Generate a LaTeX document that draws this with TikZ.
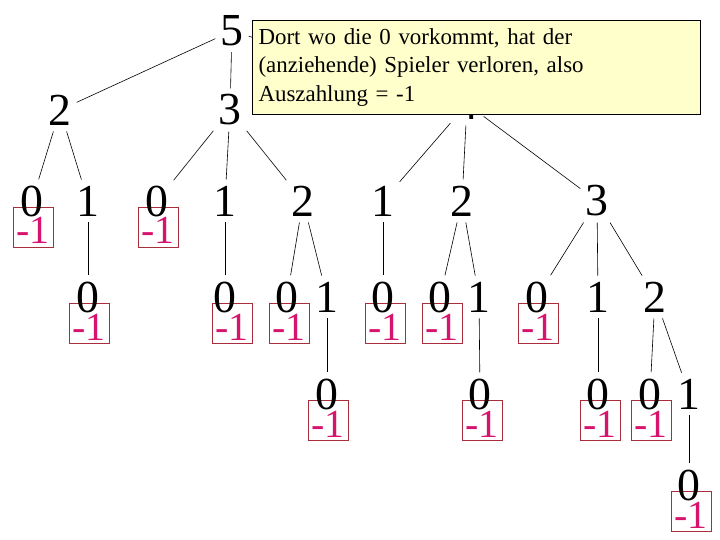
\documentclass[tikz,border=0pt]{standalone}
\usepackage{fontspec}
\setmainfont{Liberation Serif}
\usepackage{xcolor}
\usepackage{tikz}
\usetikzlibrary{positioning}
\definecolor{payline}{RGB}{170,45,60}
\definecolor{paytext}{RGB}{214,20,110}
\definecolor{notefill}{RGB}{255,255,204}
\tikzstyle{num} = [rectangle, inner xsep=5bp, inner ysep=6bp, font=\fontsize{46}{46}\selectfont]
\tikzstyle{payoff} = [rectangle, draw=payline, text=paytext, line width=0.8bp, minimum width=40bp, inner sep=3bp, text height=34bp, text depth=0pt, font=\fontsize{40}{40}\selectfont]
\tikzstyle{note} = [rectangle, draw=black, fill=notefill, line width=1bp, anchor=north west, minimum height=94bp, text width=436bp, inner xsep=6bp, align=left, font=\fontsize{23}{28.3}\selectfont]
\tikzstyle{branch} = [line width=0.6bp]
\begin{document}
\begin{tikzpicture}[x=1bp, y=-1bp]
\useasboundingbox (0,0) rectangle (720,540);

% Auszahlungen
\node (a0p) [payoff] at (33,227) {-1};
\node (b0p) [payoff] at (158,227) {-1};
\node (a10p) [payoff] at (89,323) {-1};
\node (b10p) [payoff] at (232,323) {-1};
\node (b20p) [payoff] at (289,323) {-1};
\node (c10p) [payoff] at (385,323) {-1};
\node (c20p) [payoff] at (442,323) {-1};
\node (c30p) [payoff] at (538,323) {-1};
\node (b210p) [payoff] at (328,420) {-1};
\node (c210p) [payoff] at (482,420) {-1};
\node (c310p) [payoff] at (600,420) {-1};
\node (c320p) [payoff] at (651,420) {-1};
\node (c3210p) [payoff] at (691,511) {-1};

% Ebene 0 und 1
\node (r) [num] at (232,31) {5};
\node (a) [num] at (60,110) {2};
\node (b) [num] at (230,110) {3};
\node (c) [num] at (467,104) {4};

% Ebene 2
\node (a0) [num] at (32,201) {0};
\node (a1) [num] at (88,201) {1};
\node (b0) [num] at (157,201) {0};
\node (b1) [num] at (225,201) {1};
\node (b2) [num] at (303,201) {2};
\node (c1) [num] at (383,201) {1};
\node (c2) [num] at (462,201) {2};
\node (c3) [num] at (597,201) {3};

% Ebene 3
\node (a10) [num] at (88,297) {0};
\node (b10) [num] at (225,297) {0};
\node (b20) [num] at (287,297) {0};
\node (b21) [num] at (327,297) {1};
\node (c10) [num] at (383,297) {0};
\node (c20) [num] at (440,297) {0};
\node (c21) [num] at (479,297) {1};
\node (c30) [num] at (537,297) {0};
\node (c31) [num] at (598,297) {1};
\node (c32) [num] at (655,297) {2};

% Ebene 4 und 5
\node (b210) [num] at (327,394) {0};
\node (c210) [num] at (480,394) {0};
\node (c310) [num] at (598,394) {0};
\node (c320) [num] at (650,394) {0};
\node (c321) [num] at (689,394) {1};
\node (c3210) [num] at (689,485) {0};

% Kanten
\draw [branch] (r) -- (a);
\draw [branch] (r) -- (b);
\draw [branch] (r) -- (c);
\draw [branch] (a) -- (a0);
\draw [branch] (a) -- (a1);
\draw [branch] (b) -- (b0);
\draw [branch] (b) -- (b1);
\draw [branch] (b) -- (b2);
\draw [branch] (c) -- (c1);
\draw [branch] (c) -- (c2);
\draw [branch] (c) -- (c3);
\draw [branch] (a1) -- (a10);
\draw [branch] (b1) -- (b10);
\draw [branch] (b2) -- (b20);
\draw [branch] (b2) -- (b21);
\draw [branch] (c1) -- (c10);
\draw [branch] (c2) -- (c20);
\draw [branch] (c2) -- (c21);
\draw [branch] (c3) -- (c30);
\draw [branch] (c3) -- (c31);
\draw [branch] (c3) -- (c32);
\draw [branch] (b21) -- (b210);
\draw [branch] (c21) -- (c210);
\draw [branch] (c31) -- (c310);
\draw [branch] (c32) -- (c320);
\draw [branch] (c32) -- (c321);
\draw [branch] (c321) -- (c3210);

% Hinweis
\node (hint) [note] at (252,20) {Dort wo die 0 vorkommt, hat der\\(anziehende) Spieler verloren, also\\Auszahlung = -1};

\end{tikzpicture}
\end{document}
